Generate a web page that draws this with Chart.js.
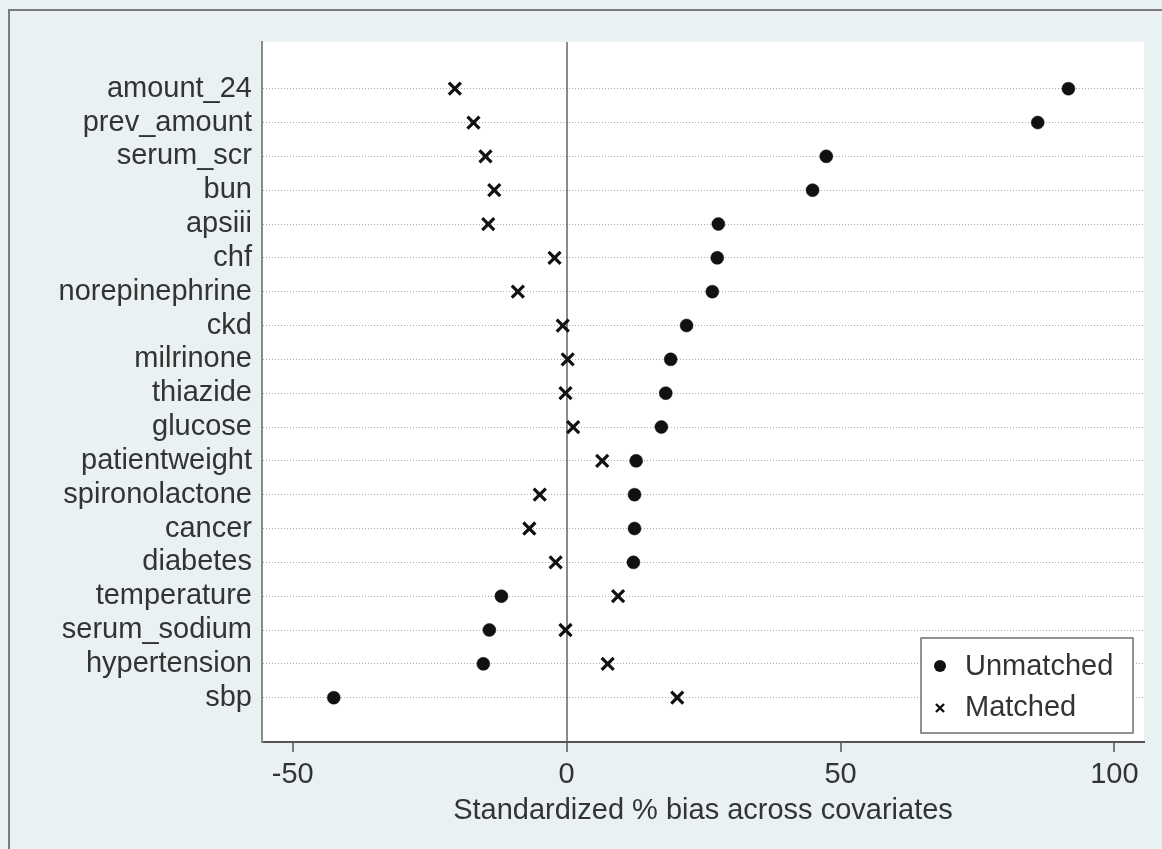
<!DOCTYPE html>
<html>
<head>
<meta charset="utf-8">
<script src="https://cdn.jsdelivr.net/npm/chart.js@4.4.1/dist/chart.umd.min.js"></script>
<style>
  html, body { margin: 0; padding: 0; background: #eaf1f3; }
  canvas { display: block; }
</style>
</head>
<body>
<canvas id="mycanvas" width="1162" height="849"></canvas>
<script>
// covariates, top to bottom
var covariates = ['amount_24', 'prev_amount', 'serum_scr', 'bun', 'apsiii', 'chf',
  'norepinephrine', 'ckd', 'milrinone', 'thiazide', 'glucose', 'patientweight',
  'spironolactone', 'cancer', 'diabetes', 'temperature', 'serum_sodium',
  'hypertension', 'sbp'];

// standardized % bias
var unmatched = [91.6, 86.0, 47.4, 44.9, 27.7, 27.5, 26.6, 21.9, 19.0, 18.1,
  17.3, 12.7, 12.4, 12.4, 12.2, -11.9, -14.1, -15.2, -42.5];
var matched = [-20.4, -17.0, -14.8, -13.2, -14.3, -2.2, -8.9, -0.7, 0.2, -0.2,
  1.2, 6.5, -4.9, -6.8, -2.0, 9.4, -0.2, 7.5, 20.2];

var xTicks = [-50, 0, 50, 100];

var FONT = '"Liberation Sans", Arial, sans-serif';
var n = covariates.length;

function toPoints(vals) {
  var pts = [];
  for (var i = 0; i < vals.length; i++) {
    pts.push({ x: vals[i], y: n - i });
  }
  return pts;
}

// background, outer frame and white plot region
var backdrop = {
  id: 'backdrop',
  beforeDraw: function(chart) {
    var c = chart.ctx, a = chart.chartArea;
    c.save();
    c.fillStyle = '#eaf1f3';
    c.fillRect(0, 0, chart.width, chart.height);
    c.strokeStyle = '#7c7c7c';
    c.lineWidth = 2;
    c.beginPath();
    c.moveTo(9, chart.height + 5);
    c.lineTo(9, 10);
    c.lineTo(chart.width + 5, 10);
    c.stroke();
    c.fillStyle = '#ffffff';
    c.fillRect(a.left, a.top, a.right - a.left, a.bottom - a.top);
    c.restore();
  }
};

// legend box inside the plot, bottom right
var boxLegend = {
  id: 'boxLegend',
  afterDatasetsDraw: function(chart) {
    var c = chart.ctx, a = chart.chartArea;
    var w = 212, h = 95;
    var x = a.right - 11 - w, y = a.bottom - 9 - h;
    c.save();
    c.fillStyle = '#ffffff';
    c.fillRect(x, y, w, h);
    c.strokeStyle = '#6f6f6f';
    c.lineWidth = 1.5;
    c.strokeRect(x, y, w, h);

    c.fillStyle = '#111';
    c.beginPath();
    c.arc(x + 19, y + 28, 6, 0, Math.PI * 2);
    c.fill();

    c.strokeStyle = '#111';
    c.lineWidth = 2.4;
    c.beginPath();
    c.moveTo(x + 15, y + 66); c.lineTo(x + 23, y + 74);
    c.moveTo(x + 23, y + 66); c.lineTo(x + 15, y + 74);
    c.stroke();

    c.fillStyle = '#333';
    c.font = '29px ' + FONT;
    c.textBaseline = 'middle';
    c.textAlign = 'left';
    c.fillText('Unmatched', x + 44, y + 29);
    c.fillText('Matched', x + 44, y + 70);
    c.restore();
  }
};

var ctx = document.getElementById('mycanvas');

var chart = new Chart(ctx, {
  type: 'scatter',
  data: {
    datasets: [
      {
        label: 'Unmatched',
        data: toPoints(unmatched),
        pointStyle: 'circle',
        pointRadius: 6.5,
        pointHoverRadius: 6.5,
        backgroundColor: '#111',
        borderColor: '#111',
        borderWidth: 0.5
      },
      {
        label: 'Matched',
        data: toPoints(matched),
        pointStyle: 'crossRot',
        pointRadius: 8.5,
        pointHoverRadius: 8.5,
        backgroundColor: '#111',
        borderColor: '#111',
        borderWidth: 3.2
      }
    ]
  },
  options: {
    responsive: false,
    animation: false,
    devicePixelRatio: 1,
    layout: { padding: { left: 0, top: 42, right: 18, bottom: 0 } },
    plugins: {
      legend: { display: false },
      tooltip: { enabled: false }
    },
    scales: {
      x: {
        type: 'linear',
        min: -55.6,
        max: 105.4,
        afterBuildTicks: function(scale) {
          scale.ticks = xTicks.map(function(v) { return { value: v }; });
        },
        afterFit: function(scale) { scale.height = 107; },
        grid: {
          drawOnChartArea: true,
          color: function(c) { return c.tick && c.tick.value === 0 ? '#8a8a8a' : 'rgba(0,0,0,0)'; },
          lineWidth: 2,
          tickLength: 10,
          tickColor: '#555',
          tickWidth: 1.5
        },
        border: { display: true, color: '#555', width: 2 },
        ticks: {
          color: '#333',
          padding: 8,
          maxRotation: 0,
          font: { family: FONT, size: 29, lineHeight: 1 }
        },
        title: {
          display: true,
          text: 'Standardized % bias across covariates',
          color: '#333',
          padding: { top: 0, bottom: 24 },
          font: { family: FONT, size: 29, lineHeight: 1 }
        }
      },
      y: {
        type: 'linear',
        min: -0.31,
        max: 20.38,
        afterBuildTicks: function(scale) {
          var t = [];
          for (var i = 1; i <= n; i++) t.push({ value: i });
          scale.ticks = t;
        },
        afterFit: function(scale) { scale.width = 262; },
        grid: {
          color: 'rgba(0,0,0,0.32)',
          lineWidth: 1,
          drawTicks: false
        },
        border: { display: true, color: '#8a8a8a', width: 2, dash: [1, 2] },
        ticks: {
          color: '#333',
          padding: 10,
          font: { family: FONT, size: 29, lineHeight: 1 },
          callback: function(v) { return covariates[n - v]; }
        }
      }
    }
  },
  plugins: [backdrop, boxLegend]
});
</script>
</body>
</html>
